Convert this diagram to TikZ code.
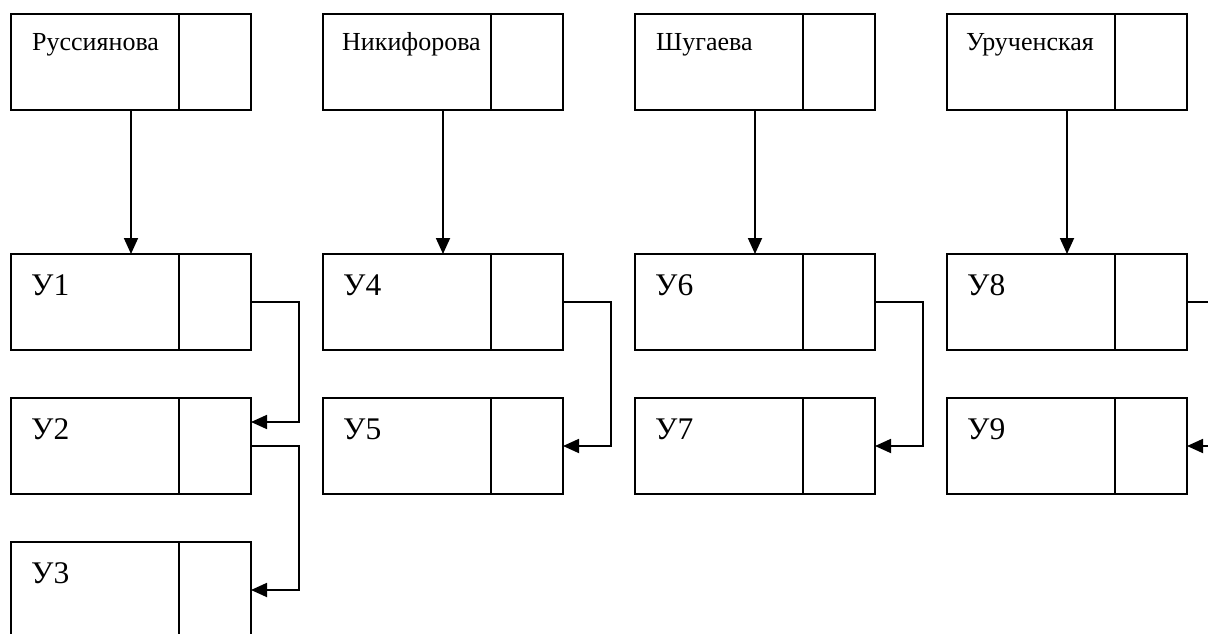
\documentclass[tikz,border=0pt]{standalone}
\usepackage{fontspec}
\setmainfont{Liberation Serif}
\usetikzlibrary{arrows.meta,calc}
\tikzset{
  rec/.style={draw, line width=1.8pt, minimum width=240pt, minimum height=96pt,
    inner sep=0pt, outer sep=0pt, anchor=north west},
  head/.style={font=\fontsize{26}{30}\selectfont, anchor=base west, inner sep=0pt},
  lab/.style={font=\fontsize{31.5}{36}\selectfont, anchor=base west, inner sep=0pt},
  link/.style={line width=1.8pt, -{Triangle[length=16pt,width=14pt]}},
  divider/.style={line width=1.8pt},
}
% draws a record: box with its divider
\newcommand{\recbox}[3]{% name, x, y
  \node[rec] (#1) at (#2,#3) {};
  \draw[divider] ($(#1.north west)+(168,0)$) -- ($(#1.south west)+(168,0)$);
}
\begin{document}
\begin{tikzpicture}[x=1pt,y=-1pt]
  \useasboundingbox (0,0) rectangle (1208,634);
  \clip (0,0) rectangle (1208,634);

  % surnames
  \recbox{r1}{11}{14}
  \recbox{r2}{323}{14}
  \recbox{r3}{635}{14}
  \recbox{r4}{947}{14}
  \node[head] (t1) at ($(r1.north west)+(21,37)$) {Руссиянова};
  \node[head] (t2) at ($(r2.north west)+(19,37)$) {Никифорова};
  \node[head] (t3) at ($(r3.north west)+(21,37)$) {Шугаева};
  \node[head] (t4) at ($(r4.north west)+(19,37)$) {Урученская};

  % items
  \recbox{u1}{11}{254}
  \recbox{u2}{11}{398}
  \recbox{u3}{11}{542}
  \recbox{u4}{323}{254}
  \recbox{u5}{323}{398}
  \recbox{u6}{635}{254}
  \recbox{u7}{635}{398}
  \recbox{u8}{947}{254}
  \recbox{u9}{947}{398}
  \foreach \n in {1,...,9}{
    \node[lab] (l\n) at ($(u\n.north west)+(20,41)$) {У\n};
  }

  % surname -> first item
  \draw[link] (r1.south) -- (u1.north);
  \draw[link] (r2.south) -- (u4.north);
  \draw[link] (r3.south) -- (u6.north);
  \draw[link] (r4.south) -- (u8.north);

  % item -> next item
  \draw[link] (u1.east) -- ++(48,0) |- ($(u2.north east)!0.25!(u2.south east)$);
  \draw[link] (u2.east) -- ++(48,0) |- (u3.east);
  \draw[link] (u4.east) -- ++(48,0) |- (u5.east);
  \draw[link] (u6.east) -- ++(48,0) |- (u7.east);
  \draw[link] (u8.east) -- ++(48,0) |- (u9.east);
\end{tikzpicture}
\end{document}
